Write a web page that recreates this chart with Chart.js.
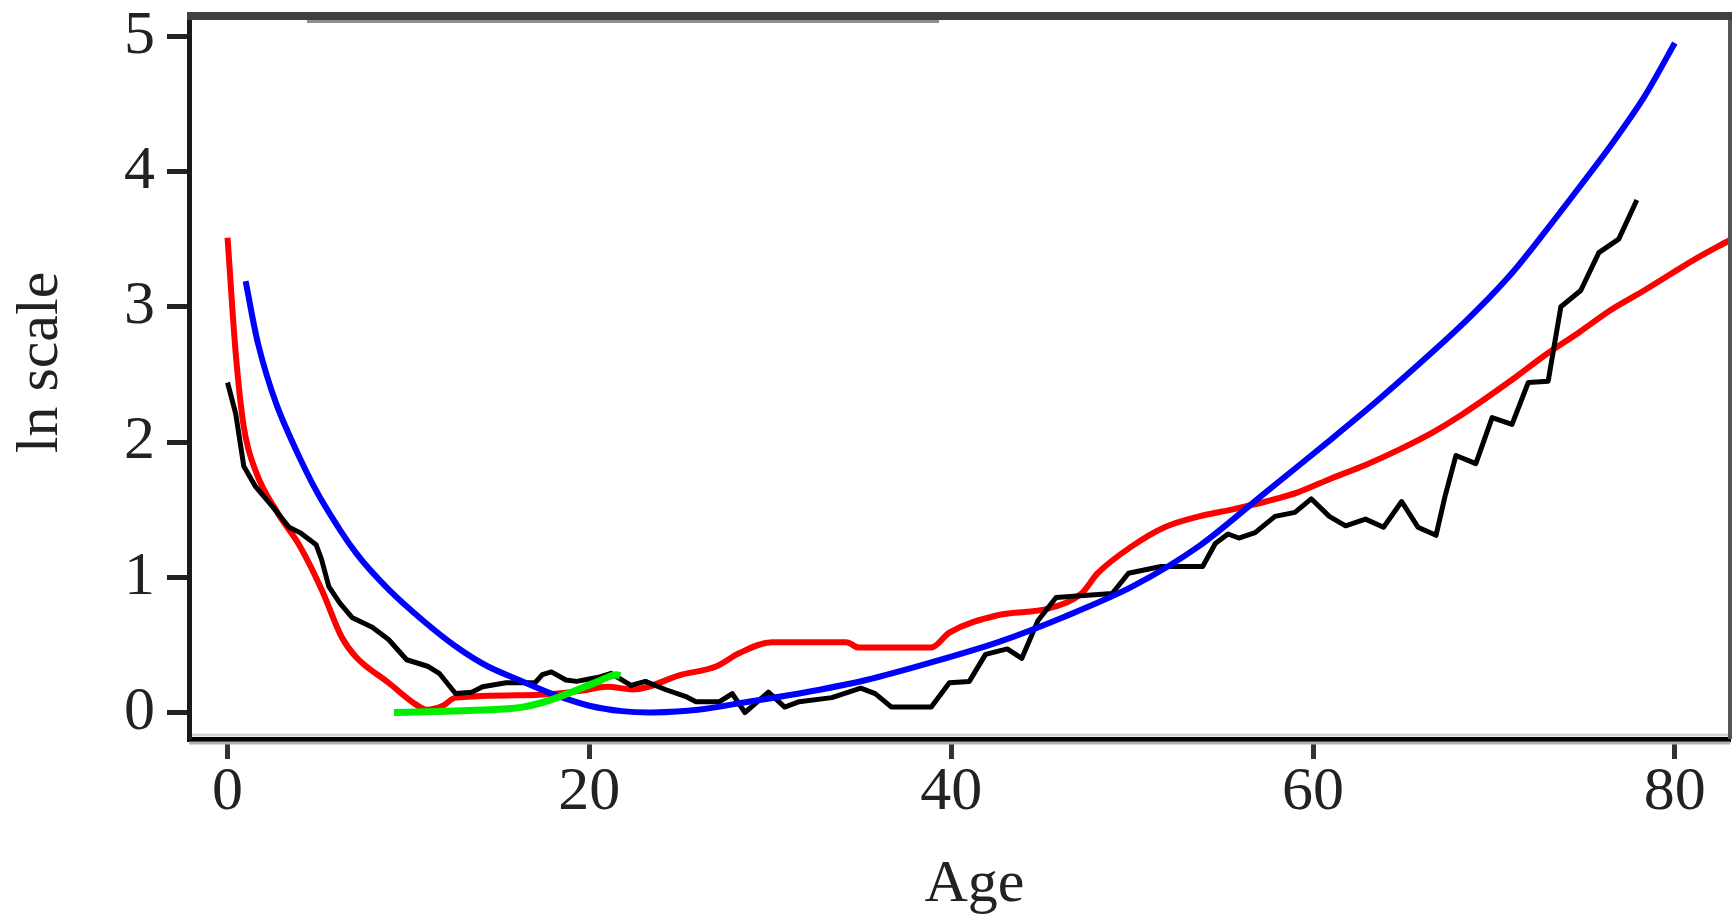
<!DOCTYPE html>
<html>
<head>
<meta charset="utf-8">
<title>ln scale by age</title>
<script src="https://cdn.jsdelivr.net/npm/chart.js@4.4.0/dist/chart.umd.min.js"></script>
<style>
  html, body { margin: 0; padding: 0; background: #fff; }
  #chart { display: block; }
</style>
</head>
<body>
<canvas id="chart" width="1732" height="918"></canvas>
<script>
'use strict';

// tick labels
const xTickValues = [0, 20, 40, 60, 80];
const yTickValues = [0, 1, 2, 3, 4, 5];

// black: observed (jagged)
const blackAges = [0, 0.45, 0.9, 1.55, 2.5, 3.4, 4.0, 4.9, 5.2, 5.6, 6.2, 6.9, 8.0, 8.9, 9.9, 11.1, 11.7, 12.6, 13.5, 14.1,
    15.4, 17.0, 17.4, 17.9, 18.7, 19.3, 20.5, 21.2, 22.3, 23.1, 24.2, 25.3, 25.9, 27.2, 27.9, 28.6, 29.9, 30.8, 31.6, 33.4,
    35.0, 35.8, 36.7, 38.9, 39.9, 41.0, 41.9, 43.1, 43.9, 44.8, 45.8, 48.9, 49.8, 51.6, 53.9, 54.6, 55.3, 55.9, 56.8, 57.9,
    59.0, 59.9, 60.9, 61.8, 62.9, 63.9, 64.9, 65.8, 66.8, 67.3, 67.9, 69.0, 69.9, 71.0, 71.9, 73.0, 73.7, 74.8, 75.8, 76.9, 77.9];
const blackValues = [2.44, 2.21, 1.82, 1.67, 1.52, 1.37, 1.33, 1.24, 1.13, 0.93, 0.81, 0.70, 0.63, 0.54, 0.39, 0.34, 0.29, 0.14, 0.15, 0.19,
    0.22, 0.22, 0.28, 0.30, 0.24, 0.23, 0.26, 0.29, 0.20, 0.23, 0.17, 0.12, 0.08, 0.08, 0.14, 0.00, 0.15, 0.04, 0.08, 0.11,
    0.18, 0.14, 0.04, 0.04, 0.22, 0.23, 0.43, 0.47, 0.40, 0.68, 0.85, 0.88, 1.03, 1.08, 1.08, 1.25, 1.32, 1.29, 1.33, 1.45,
    1.48, 1.58, 1.45, 1.38, 1.43, 1.37, 1.56, 1.37, 1.31, 1.60, 1.90, 1.84, 2.18, 2.13, 2.44, 2.45, 3.00, 3.12, 3.40, 3.50, 3.79];

// red: smoothed
const redAges = [0, 0.45, 0.9, 1.6, 2.8, 4.0, 5.2, 6.3, 7.1, 8.9, 10.4, 11.0, 11.9, 12.6, 17.0, 19.5, 21.0, 22.4, 25.1, 27.0,
    28.3, 30.1, 34.2, 34.9, 38.9, 39.9, 42.6, 45.4, 47.2, 48.1, 50.0, 51.8, 53.7, 55.5, 57.4, 59.2, 61.0, 62.9, 64.7, 66.6,
    68.2, 71.0, 72.8, 74.7, 76.5, 78.3, 81.1, 83.0];
const redValues = [3.51, 2.66, 2.11, 1.77, 1.47, 1.23, 0.91, 0.56, 0.41, 0.22, 0.06, 0.02, 0.05, 0.11, 0.13, 0.16, 0.19, 0.17, 0.28, 0.34,
    0.44, 0.52, 0.52, 0.48, 0.48, 0.59, 0.72, 0.77, 0.88, 1.03, 1.23, 1.37, 1.45, 1.50, 1.56, 1.63, 1.73, 1.83, 1.94, 2.07,
    2.20, 2.46, 2.64, 2.81, 2.98, 3.12, 3.35, 3.49];

// blue: fitted curve
const blueAges = [1.0, 1.7, 2.7, 4.0, 5.2, 7.1, 8.9, 10.8, 12.6, 14.4, 16.3, 18.1, 20.0, 21.8, 23.5, 26.0, 28.8, 31.6, 35.3, 38.9,
    42.6, 46.3, 50.0, 53.7, 57.4, 61.0, 63.6, 67.3, 69.1, 71.0, 72.8, 74.7, 76.5, 78.3, 80.0];
const blueValues = [3.19, 2.72, 2.28, 1.88, 1.57, 1.18, 0.91, 0.68, 0.49, 0.34, 0.23, 0.13, 0.05, 0.01, 0.0, 0.02, 0.08, 0.14, 0.24, 0.37,
    0.52, 0.71, 0.93, 1.23, 1.63, 2.02, 2.31, 2.75, 2.98, 3.25, 3.55, 3.88, 4.20, 4.55, 4.95];

// green: short segment
const greenAges = [9.2, 14.4, 16.3, 17.8, 19.0, 20.5, 21.5, 21.7];
const greenValues = [0.0, 0.02, 0.04, 0.09, 0.15, 0.23, 0.28, 0.27];

const toPoints = (ages, values) => ages.map((a, i) => ({x: a, y: values[i]}));

const serif = "'Liberation Serif', 'DejaVu Serif', serif";
const textColor = '#222';

// top / right frame lines and the axis shading
const framePlugin = {
    id: 'frame',
    afterDraw(chart) {
        const {ctx, chartArea: a} = chart;
        ctx.save();
        ctx.lineCap = 'butt';
        // light shading around the bottom axis
        ctx.strokeStyle = '#d4d4d4';
        ctx.lineWidth = 3;
        ctx.beginPath(); ctx.moveTo(a.left + 3, a.bottom - 4); ctx.lineTo(a.right, a.bottom - 4); ctx.stroke();
        ctx.strokeStyle = '#b0b0b0';
        ctx.beginPath(); ctx.moveTo(a.left, a.bottom + 4); ctx.lineTo(a.right, a.bottom + 4); ctx.stroke();
        // right border
        ctx.strokeStyle = '#555';
        ctx.lineWidth = 4;
        ctx.beginPath(); ctx.moveTo(a.right, a.top - 4); ctx.lineTo(a.right, a.bottom); ctx.stroke();
        // top border
        ctx.strokeStyle = '#404040';
        ctx.lineWidth = 8;
        ctx.beginPath(); ctx.moveTo(a.left - 2, a.top); ctx.lineTo(a.right + 2, a.top); ctx.stroke();
        ctx.strokeStyle = '#8e8e8e';
        ctx.lineWidth = 3;
        ctx.beginPath(); ctx.moveTo(307, a.top + 5.5); ctx.lineTo(939, a.top + 5.5); ctx.stroke();
        ctx.restore();
    }
};

const line = (label, ages, values, color, width, tension, monotone) => ({
    label: label,
    data: toPoints(ages, values),
    borderColor: color,
    backgroundColor: color,
    borderWidth: width,
    pointRadius: 0,
    fill: false,
    tension: tension,
    cubicInterpolationMode: monotone ? 'monotone' : 'default',
    borderJoinStyle: 'round'
});

document.addEventListener('DOMContentLoaded', function() {
    const canvas = document.querySelector('#chart').getContext('2d');
    new Chart(canvas, {
        type: 'line',
        data: {
            datasets: [
                line('green', greenAges, greenValues, '#00ee00', 7, 0, true),
                line('blue', blueAges, blueValues, '#0000ff', 6, 0.3, false),
                line('black', blackAges, blackValues, '#000000', 5, 0, false),
                line('red', redAges, redValues, '#ff0000', 6, 0, true)
            ]
        },
        options: {
            responsive: false,
            animation: false,
            layout: { padding: { top: 16, right: 2, bottom: 0, left: 0 } },
            plugins: {
                legend: { display: false },
                tooltip: { enabled: false }
            },
            scales: {
                x: {
                    type: 'linear',
                    min: -2.13,
                    max: 83.05,
                    afterFit: (scale) => {
                        scale.height = 179;
                        scale.paddingLeft = 0;
                        scale.paddingRight = 0;
                    },
                    afterBuildTicks: (scale) => { scale.ticks = xTickValues.map(v => ({value: v})); },
                    grid: { drawOnChartArea: false, drawTicks: true, tickLength: 20, tickWidth: 5, tickColor: '#333' },
                    border: { display: true, width: 5, color: '#000' },
                    ticks: {
                        padding: 0,
                        color: textColor,
                        maxRotation: 0,
                        font: { family: serif, size: 62, lineHeight: 1.1 }
                    },
                    title: {
                        display: true,
                        text: '  Age',
                        color: textColor,
                        padding: { top: 0, bottom: 0 },
                        font: { family: serif, size: 60, lineHeight: 1.1 }
                    }
                },
                y: {
                    type: 'linear',
                    min: -0.196,
                    max: 5.15,
                    afterFit: (scale) => {
                        scale.width = 189;
                        scale.paddingTop = 0;
                        scale.paddingBottom = 0;
                    },
                    afterBuildTicks: (scale) => { scale.ticks = yTickValues.map(v => ({value: v})); },
                    grid: { drawOnChartArea: false, drawTicks: true, tickLength: 22, tickWidth: 5, tickColor: '#222' },
                    border: { display: true, width: 5, color: '#1a1a1a' },
                    ticks: {
                        padding: 12,
                        color: textColor,
                        font: { family: serif, size: 62, lineHeight: 1.1 }
                    },
                    title: {
                        display: true,
                        text: '  ln scale',
                        color: textColor,
                        padding: { top: 5, bottom: 0 },
                        font: { family: serif, size: 60, lineHeight: 1.2 }
                    }
                }
            }
        },
        plugins: [framePlugin]
    });
});
</script>
</body>
</html>
